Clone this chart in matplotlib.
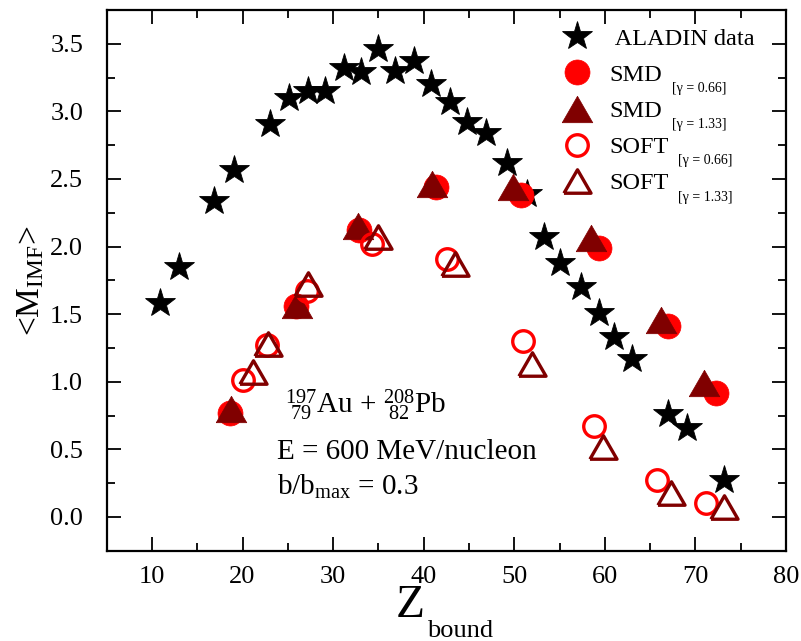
import matplotlib
matplotlib.use("Agg")
import matplotlib.pyplot as plt
from matplotlib.markers import MarkerStyle
from matplotlib.ticker import MultipleLocator, FormatStrFormatter

plt.rcParams["font.family"] = ["Liberation Serif", "DejaVu Serif"]
plt.rcParams["mathtext.fontset"] = "custom"
plt.rcParams["mathtext.rm"] = "Liberation Serif"
plt.rcParams["mathtext.it"] = "Liberation Serif:italic"
plt.rcParams["mathtext.bf"] = "Liberation Serif:bold"

# ALADIN experimental data
aladin_z = [10.9, 13.0, 16.8, 19.1, 23.0, 25.1, 27.2, 29.1, 31.2, 33.1, 34.9,
            36.8, 38.9, 40.8, 42.9, 44.8, 46.9, 49.2, 51.4, 53.3, 55.0, 57.4,
            59.3, 61.0, 63.0, 67.0, 69.1, 73.1]
aladin_m = [1.58, 1.85, 2.34, 2.57, 2.91, 3.10, 3.15, 3.15, 3.32, 3.29, 3.46,
            3.30, 3.37, 3.20, 3.07, 2.92, 2.84, 2.62, 2.39, 2.07, 1.88, 1.70,
            1.51, 1.33, 1.17, 0.76, 0.66, 0.27]

# SMD, gamma = 0.66
smd066_z = [18.6, 25.9, 32.9, 41.4, 50.7, 59.4, 67.0, 72.3]
smd066_m = [0.77, 1.56, 2.12, 2.44, 2.38, 1.99, 1.41, 0.92]

# SMD, gamma = 1.33
smd133_z = [18.7, 26.0, 32.8, 40.9, 49.9, 58.5, 66.2, 70.9]
smd133_m = [0.80, 1.57, 2.15, 2.46, 2.44, 2.06, 1.46, 0.99]

# SOFT, gamma = 0.66
soft066_z = [20.1, 22.7, 27.1, 34.3, 42.6, 51.0, 58.8, 65.8, 71.2]
soft066_m = [1.01, 1.27, 1.67, 2.02, 1.91, 1.30, 0.67, 0.27, 0.10]

# SOFT, gamma = 1.33
soft133_z = [21.2, 22.8, 27.2, 34.9, 43.5, 52.0, 59.8, 67.3, 73.2]
soft133_m = [1.07, 1.28, 1.72, 2.07, 1.87, 1.13, 0.52, 0.18, 0.07]

series_labels = [" ALADIN data", "SMD", "SMD", "SOFT", "SOFT"]
series_subs = [None, "[γ = 0.66]", "[γ = 1.33]", "[γ = 0.66]", "[γ = 1.33]"]

RED = "#ff0000"
DARK = "#800000"

# equilateral-looking triangle, centred on its bounding box
tri_verts = [(-1.0, -0.866), (1.0, -0.866), (0.0, 0.866), (-1.0, -0.866)]
tri = MarkerStyle(tri_verts, joinstyle="miter")

fig = plt.figure(figsize=(8.01, 6.41), dpi=100)
ax = fig.add_axes([0.1332, 0.1409, 0.8481, 0.8435])

ax.plot(aladin_z, aladin_m, ls="none", marker="*", ms=22, mfc="black",
        mec="black", mew=0.6, label=series_labels[0], zorder=3)
ax.plot(smd066_z, smd066_m, ls="none", marker="o", ms=18, mfc=RED, mec=RED,
        mew=0.5, label=series_labels[1], zorder=4)
ax.plot(smd133_z, smd133_m, ls="none", marker=tri, ms=22, mfc=DARK, mec=DARK,
        mew=0.5, label=series_labels[2], zorder=5)
ax.plot(soft066_z, soft066_m, ls="none", marker="o", ms=15.5, mfc="none",
        mec=RED, mew=2.4, label=series_labels[3], zorder=6)
ax.plot(soft133_z, soft133_m, ls="none", marker=tri, ms=19.5, mfc="none",
        mec=DARK, mew=2.4, label=series_labels[4], zorder=7)

ax.set_xlim(5, 80)
ax.set_ylim(-0.25, 3.75)
ax.xaxis.set_major_locator(MultipleLocator(10))
ax.xaxis.set_minor_locator(MultipleLocator(5))
ax.yaxis.set_major_locator(MultipleLocator(0.5))
ax.yaxis.set_minor_locator(MultipleLocator(0.25))
ax.yaxis.set_major_formatter(FormatStrFormatter("%.1f"))

for s in ax.spines.values():
    s.set_linewidth(1.6)
ax.tick_params(which="both", direction="in", top=True, right=True,
               width=1.3, labelsize=19)
ax.tick_params(which="major", length=10)
ax.tick_params(which="minor", length=5.5)
ax.tick_params(axis="x", which="major", pad=11)
ax.tick_params(axis="y", which="major", pad=17)

# axis titles: large Z with a smaller "bound" subscript
ax.text(0.426, -0.1226, "Z", transform=ax.transAxes, fontsize=34,
        ha="left", va="baseline")
ax.text(0.4715, -0.1596, "bound", transform=ax.transAxes, fontsize=19,
        ha="left", va="baseline")
ax.set_ylabel(r"<M$_{\mathrm{IMF}}$>", fontsize=24, labelpad=3)

ax.text(0.2625, 0.2547, r"$^{197}_{\ 79}$Au + $^{208}_{\ 82}$Pb",
        transform=ax.transAxes, fontsize=21, va="baseline", ha="left")
ax.text(0.2507, 0.1696, "E = 600 MeV/nucleon", transform=ax.transAxes,
        fontsize=21, va="baseline", ha="left")
ax.text(0.2507, 0.1030, r"b/b$_{\mathrm{max}}$ = 0.3", transform=ax.transAxes,
        fontsize=21, va="baseline", ha="left")

leg = ax.legend(loc="upper left", bbox_to_anchor=(0.6726, 0.967), frameon=False,
                fontsize=17.5, handlelength=1.1, handletextpad=0.8,
                labelspacing=0.58, borderpad=0, borderaxespad=0, numpoints=1)

# small bracketed subscripts after the legend entries; drawn after the
# legend so that the entry positions are already laid out
for txt, sub in zip(leg.get_texts(), series_subs):
    if sub is None:
        continue
    ax.annotate(sub, xy=(1, 0), xycoords=txt, xytext=(6.5, -4.5),
                textcoords="offset points", fontsize=10, ha="left",
                va="baseline", zorder=20, annotation_clip=False)

fig.savefig("out.png", dpi=100)
